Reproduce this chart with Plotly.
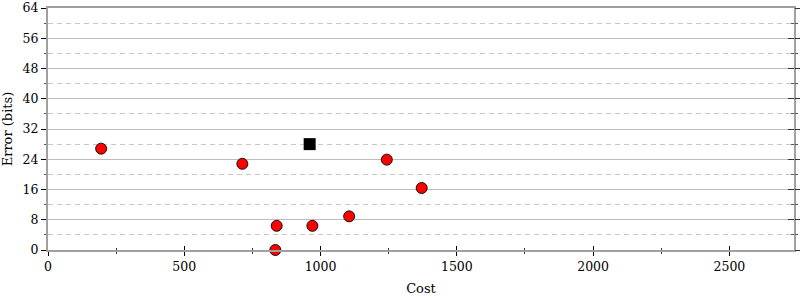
import plotly.graph_objects as go

# Data
cost = [195, 713, 839, 834, 970, 1105, 1243, 1371]
error = [26.8, 22.8, 6.4, 0.0, 6.4, 8.9, 23.9, 16.4]
best_cost = [960]
best_error = [28.0]

x_ticks = [0, 500, 1000, 1500, 2000, 2500]
y_ticks = [0, 8, 16, 24, 32, 40, 48, 56, 64]

FONT = "DejaVu Serif"
AX = "#a0a0a0"

fig = go.Figure()
fig.add_trace(go.Scatter(x=cost, y=error, mode="markers",
                         marker=dict(symbol="circle", size=11, color="#ff0000",
                                     line=dict(color="#111111", width=1)),
                         showlegend=False, hoverinfo="x+y", cliponaxis=False))
fig.add_trace(go.Scatter(x=best_cost, y=best_error, mode="markers",
                         marker=dict(symbol="square", size=12, color="#000000",
                                     line=dict(width=0)),
                         showlegend=False, hoverinfo="x+y"))
# invisible traces to activate overlay axes
fig.add_trace(go.Scatter(x=cost, y=error, xaxis="x2", yaxis="y2", mode="markers",
                         marker=dict(opacity=0), showlegend=False, hoverinfo="skip"))
fig.add_trace(go.Scatter(x=cost, y=error, xaxis="x", yaxis="y3", mode="markers",
                         marker=dict(opacity=0), showlegend=False, hoverinfo="skip"))

xr = [0, 2737]
yr = [0, 64]

fig.update_layout(
    width=800, height=300,
    margin=dict(l=48, r=6, t=8, b=50),
    paper_bgcolor="white", plot_bgcolor="white",
    font=dict(family=FONT, size=13, color="#000"),
    xaxis=dict(range=xr, tickvals=x_ticks, ticks="outside", ticklen=4, tickwidth=1,
               tickcolor="#000", showline=True, linecolor=AX, linewidth=2, mirror=True,
               showgrid=False, zeroline=False, automargin=False,
               minor=dict(dtick=250, tick0=0, ticks="outside", ticklen=2, tickcolor="#333", showgrid=False),
               title=dict(text="Cost", font=dict(family=FONT, size=13), standoff=11),
               tickfont=dict(family=FONT, size=12.5)),
    xaxis2=dict(range=xr, overlaying="x", anchor="y", side="bottom", tickvals=x_ticks,
                ticks="inside", ticklen=4, tickcolor="#000", showticklabels=False,
                showline=False, showgrid=False, zeroline=False, automargin=False,
                minor=dict(dtick=250, tick0=0, ticks="inside", ticklen=2, tickcolor="#333", showgrid=False)),
    yaxis=dict(range=yr, tickvals=y_ticks, ticks="outside", ticklen=5, tickwidth=1,
               tickcolor="#000", showline=True, linecolor=AX, linewidth=2, mirror=True,
               showgrid=True, gridcolor="#bdbdbd", gridwidth=1, zeroline=False, automargin=False,
               minor=dict(dtick=4, tick0=0, ticks="outside", ticklen=2, tickcolor="#555",
                          showgrid=True, gridcolor="#c8c8c8", griddash="5px,4px", gridwidth=1),
               title=dict(text="Error (bits)", font=dict(family=FONT, size=13), standoff=9),
               tickfont=dict(family=FONT, size=12.5)),
    yaxis2=dict(range=yr, overlaying="y", anchor="x2", side="right", tickvals=y_ticks,
                ticks="outside", ticklen=6, tickcolor="#333", showticklabels=False,
                showline=False, showgrid=False, zeroline=False, automargin=False,
                minor=dict(dtick=4, tick0=0, ticks="outside", ticklen=3, tickcolor="#555", showgrid=False)),
    yaxis3=dict(range=yr, overlaying="y", anchor="x", side="right", tickvals=y_ticks,
                ticks="inside", ticklen=6, tickcolor="#333", showticklabels=False,
                showline=False, showgrid=False, zeroline=False, automargin=False,
                minor=dict(dtick=4, tick0=0, ticks="inside", ticklen=3, tickcolor="#555", showgrid=False)),
)

fig.write_html("out.html")
